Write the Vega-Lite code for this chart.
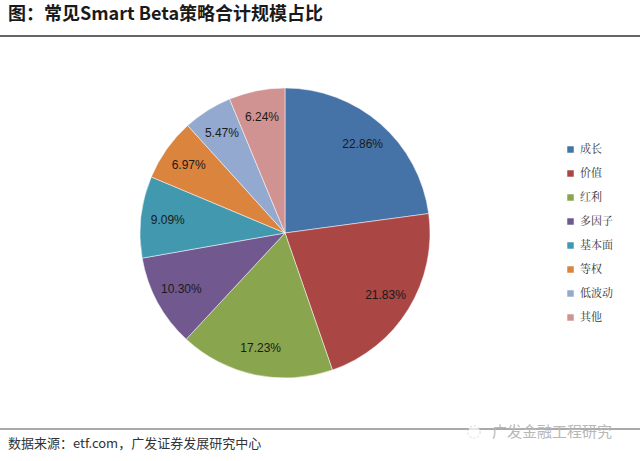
{
  "$schema": "https://vega.github.io/schema/vega-lite/v6.json",
  "autosize": "none",
  "width": 570,
  "height": 456,
  "padding": {"left": 0, "right": 70, "top": 5, "bottom": 0},
  "background": "white",
  "config": {"view": {"stroke": null}},
  "title": {
    "text": "图：常见Smart Beta策略合计规模占比",
    "anchor": "start",
    "frame": "group",
    "orient": "top",
    "offset": -22,
    "dx": 8,
    "dy": 11,
    "font": "Noto Sans CJK SC",
    "fontSize": 18,
    "fontWeight": "bold",
    "color": "#1a1a1a",
    "baseline": "alphabetic"
  },
  "data": {
    "values": [
      {"category": "成长", "share": 0.2286, "order": 1},
      {"category": "价值", "share": 0.2183, "order": 2},
      {"category": "红利", "share": 0.1723, "order": 3},
      {"category": "多因子", "share": 0.1030, "order": 4},
      {"category": "基本面", "share": 0.0909, "order": 5},
      {"category": "等权", "share": 0.0697, "order": 6},
      {"category": "低波动", "share": 0.0547, "order": 7},
      {"category": "其他", "share": 0.0624, "order": 8}
    ]
  },
  "layer": [
    {
      "mark": {"type": "arc", "outerRadius": 145, "stroke": "white", "strokeWidth": 0.5},
      "encoding": {
        "theta": {"field": "share", "type": "quantitative", "stack": true},
        "order": {"field": "order", "type": "quantitative"},
        "color": {
          "field": "category",
          "type": "nominal",
          "sort": ["成长", "价值", "红利", "多因子", "基本面", "等权", "低波动", "其他"],
          "scale": {
            "domain": ["成长", "价值", "红利", "多因子", "基本面", "等权", "低波动", "其他"],
            "range": ["#4572A7", "#AA4643", "#89A54E", "#71588F", "#4198AF", "#DB843D", "#93A9CF", "#D19392"]
          },
          "legend": {
            "title": null,
            "orient": "none",
            "legendX": 565,
            "legendY": 139,
            "symbolType": "square",
            "symbolSize": 42,
            "symbolStrokeWidth": 0,
            "rowPadding": 12,
            "labelFont": "Noto Serif CJK SC",
            "labelFontSize": 11,
            "labelColor": "#333333",
            "labelOffset": 4
          }
        }
      }
    },
    {
      "mark": {"type": "text", "radius": 118, "font": "Liberation Sans", "fontSize": 12, "color": "#1a1a1a"},
      "encoding": {
        "theta": {"field": "share", "type": "quantitative", "stack": true},
        "order": {"field": "order", "type": "quantitative"},
        "text": {"field": "share", "type": "quantitative", "format": ".2%"}
      }
    },
    {
      "data": {"values": [{"kind": "header"}]},
      "mark": {"type": "rule", "color": "#333333", "strokeWidth": 1.5},
      "encoding": {"x": {"value": 0}, "x2": {"value": 640}, "y": {"value": 31}}
    },
    {
      "data": {"values": [{"kind": "footer"}]},
      "mark": {"type": "rule", "color": "#555555", "strokeWidth": 1},
      "encoding": {"x": {"value": 0}, "x2": {"value": 640}, "y": {"value": 424}}
    },
    {
      "data": {"values": [{"kind": "source"}]},
      "mark": {"type": "text", "text": "数据来源：etf.com，广发证券发展研究中心", "align": "left", "baseline": "alphabetic", "font": "Noto Sans CJK SC", "fontSize": 13, "color": "#333333"},
      "encoding": {"x": {"value": 8}, "y": {"value": 443}}
    },
    {
      "data": {"values": [{"kind": "watermark"}]},
      "mark": {"type": "text", "text": "广发金融工程研究", "align": "left", "baseline": "middle", "font": "Noto Sans CJK SC", "fontSize": 15, "color": "#b8b8b8"},
      "encoding": {"x": {"value": 492}, "y": {"value": 427}}
    },
    {
      "data": {"values": [{"kind": "icon"}]},
      "mark": {"type": "point", "shape": "circle", "size": 150, "stroke": "#c8c8c8", "strokeDash": [2, 2], "fill": "white", "filled": false, "strokeWidth": 1},
      "encoding": {"x": {"value": 474}, "y": {"value": 427}}
    }
  ]
}
